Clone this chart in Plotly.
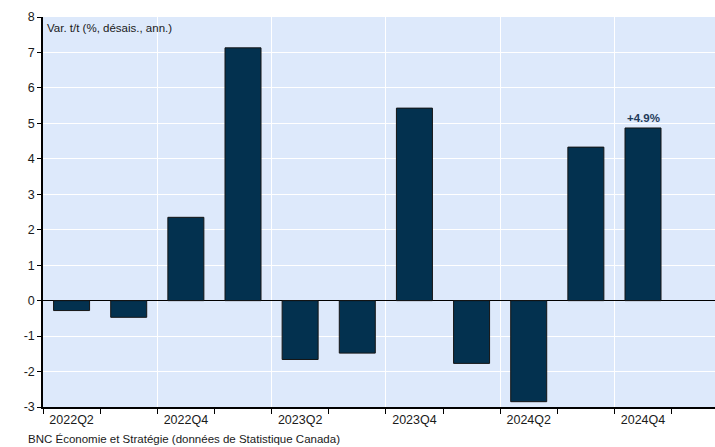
import plotly.graph_objects as go

categories = ["2022Q2", "2022Q3", "2022Q4", "2023Q1", "2023Q2", "2023Q3",
              "2023Q4", "2024Q1", "2024Q2", "2024Q3", "2024Q4"]
values = [-0.28, -0.47, 2.35, 7.13, -1.66, -1.48, 5.43, -1.77, -2.85, 4.33, 4.87]
tick_labels = [c if i % 2 == 0 else "" for i, c in enumerate(categories)]
y_ticks = [-3, -2, -1, 0, 1, 2, 3, 4, 5, 6, 7, 8]
y_tick_labels = ["-3", "-2", "-1", "0", "1", "2", "3", "4", "5", "6", "7", "8"]
last_label = "+4.9%"
y_title = "Var. t/t (%, désais., ann.)"
source = "BNC Économie et Stratégie (données de Statistique Canada)"

FONT = "Liberation Sans, Arial, sans-serif"
BG = "#DDE9FB"
BAR = "#03314F"

fig = go.Figure()
fig.add_trace(go.Bar(
    x=categories, y=values, width=0.63,
    marker=dict(color=BAR, line=dict(color="#151515", width=1)),
    showlegend=False, hoverinfo="x+y",
))
# invisible trace to activate overlay axis used for vertical gridlines
grid_pos = [i - 0.5 for i in range(len(categories)) if i % 2 == 0 and i > 0]
fig.add_trace(go.Scatter(x=[grid_pos[0]], y=[0], xaxis="x2", yaxis="y",
                         mode="markers", marker=dict(opacity=0), showlegend=False,
                         hoverinfo="skip"))

xr = [-0.5, 11.26]
fig.update_layout(
    width=715, height=447,
    margin=dict(l=43, r=0, t=17, b=40),
    paper_bgcolor="white", plot_bgcolor=BG,
    font=dict(family=FONT, size=12, color="#1a1a1a"),
    xaxis=dict(
        type="category", categoryorder="array", categoryarray=categories,
        range=xr, tickson="boundaries", tickvals=categories, ticktext=tick_labels,
        ticks="outside", ticklen=5, tickcolor="black", tickwidth=1,
        showline=True, linecolor="black", linewidth=1.5,
        showgrid=False, zeroline=False,
        tickfont=dict(size=12.5, color="#1a1a1a"),
    ),
    xaxis2=dict(
        overlaying="x", range=xr, tickvals=grid_pos, showticklabels=False,
        showgrid=True, gridcolor="white", gridwidth=1, ticks="",
        zeroline=False, showline=False,
    ),
    yaxis=dict(
        range=[-3, 8], tickvals=y_ticks, ticktext=y_tick_labels,
        ticks="outside", ticklen=4, tickcolor="black", tickwidth=1,
        showline=True, linecolor="black", linewidth=1.5,
        showgrid=True, gridcolor="white", gridwidth=1,
        zeroline=True, zerolinecolor="black", zerolinewidth=1,
        tickfont=dict(size=12.5, color="#1a1a1a"),
    ),
    bargap=0.37,
)

fig.add_annotation(x=categories[-1], y=values[-1], text="<b>" + last_label + "</b>",
                   showarrow=False, yanchor="bottom", yshift=2,
                   font=dict(size=11.5, color="#1F3B5A", family=FONT))
fig.add_annotation(xref="paper", yref="paper", x=0, y=1, xanchor="left", yanchor="top",
                   xshift=2, yshift=-3, text=y_title, showarrow=False,
                   font=dict(size=11.5, color="#1a1a1a", family=FONT))
fig.add_annotation(xref="paper", yref="paper", x=0, y=0, xanchor="left", yanchor="top",
                   xshift=-17, yshift=-24, text=source, showarrow=False,
                   font=dict(size=11.5, color="#1a1a1a", family=FONT))

fig.write_html("out.html", config={"displayModeBar": False},
               post_script="document.body.style.margin='0';")
